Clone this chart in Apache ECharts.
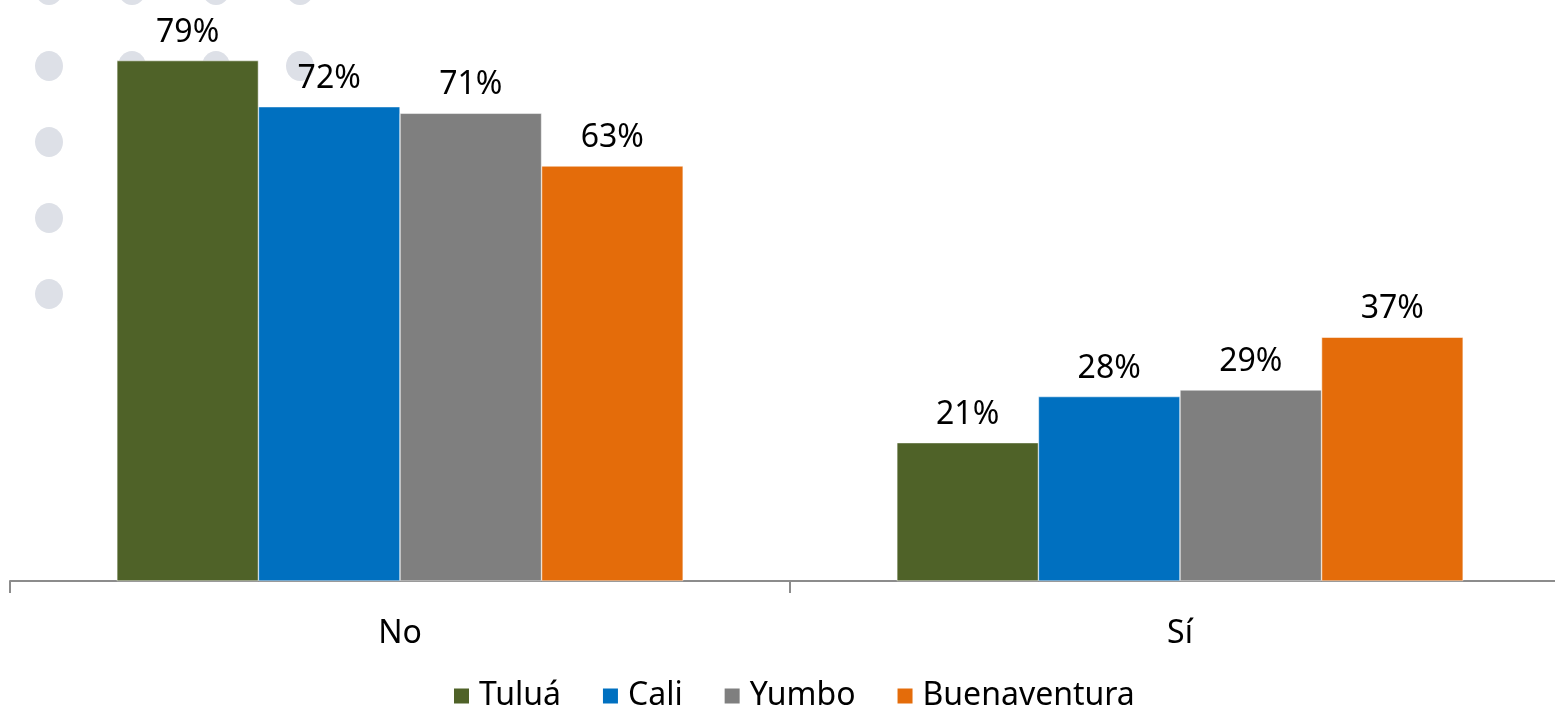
<!DOCTYPE html>
<html>
<head>
<meta charset="utf-8">
<script src="https://cdn.jsdelivr.net/npm/echarts@6/dist/echarts.min.js"></script>
<style>
  html, body { margin: 0; padding: 0; background: #fff; overflow: hidden; }
  #chart { width: 1570px; height: 714px; }
</style>
</head>
<body>
<div id="chart"></div>
<script>
// categorias y series
var categories = ['No', 'Sí'];
var seriesNames = ['Tuluá', 'Cali', 'Yumbo', 'Buenaventura'];
var tulua = [79, 21];
var cali = [72, 28];
var yumbo = [71, 29];
var buenaventura = [63, 37];
var colors = ['#4f6228', '#0070c0', '#7f7f7f', '#e46c0a'];

var myChart = echarts.init(document.getElementById('chart'));

// puntos decorativos de fondo
var dots = [];
var dotX = [49, 132, 216, 300];
var dotY = [-10, 66, 142, 218, 294];
for (var i = 0; i < dotX.length; i++) {
    for (var j = 0; j < dotY.length; j++) {
        dots.push({
            type: 'ellipse',
            shape: {cx: dotX[i], cy: dotY[j], rx: 14, ry: 15},
            style: {fill: '#dde0e7'},
            z: 0
        });
    }
}

var allData = [tulua, cali, yumbo, buenaventura];
var series_data = [];
for (var k = 0; k < seriesNames.length; k++) {
    series_data.push({
        name: seriesNames[k],
        type: 'bar',
        data: allData[k],
        barGap: '0%',
        barCategoryGap: '27.4%',
        z: 5,
        itemStyle: {color: colors[k], borderColor: '#ffffff', borderWidth: 0.5},
        label: {
            show: true,
            position: 'top',
            distance: 12,
            formatter: '{c}%',
            color: '#000',
            fontFamily: 'Noto Sans',
            fontSize: 32
        }
    });
}

var option = {
    animation: false,
    color: colors,
    graphic: dots,
    grid: {
        left: 10,
        right: 0,
        top: 54,
        bottom: 133,
        containLabel: false
    },
    legend: {
        data: seriesNames,
        top: 675,
        left: 447,
        icon: 'rect',
        itemWidth: 17,
        itemHeight: 17,
        itemGap: 40,
        textStyle: {fontFamily: 'Noto Sans', fontSize: 32, color: '#000', padding: [0, 0, 0, 4]}
    },
    xAxis: {
        type: 'category',
        data: categories,
        axisLine: {lineStyle: {color: '#8c8c8c', width: 2}},
        axisTick: {show: true, length: 12, lineStyle: {color: '#8c8c8c', width: 2}},
        axisLabel: {margin: 37, fontFamily: 'Noto Sans', fontSize: 32, color: '#000'}
    },
    yAxis: {
        type: 'value',
        min: 0,
        max: 80,
        show: false,
        splitLine: {show: false}
    },
    series: series_data
};
myChart.setOption(option);
</script>
</body>
</html>
